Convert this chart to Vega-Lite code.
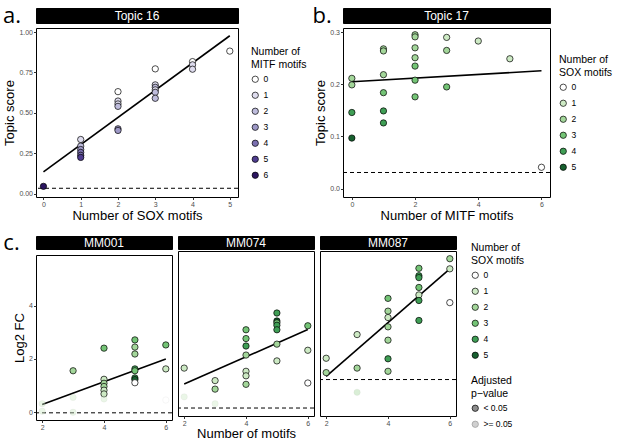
{
  "$schema": "https://vega.github.io/schema/vega-lite/v6.json",
  "padding": {"left": 2, "top": 4, "right": 0, "bottom": 0},
  "config": {
    "font": "Liberation Sans",
    "view": {"stroke": "black", "strokeWidth": 1},
    "axis": {"grid": false, "domain": false, "tickColor": "#333333", "tickSize": 2.5, "labelFontSize": 7, "labelColor": "#4d4d4d", "titleFontSize": 13, "titleFontWeight": "normal", "titleColor": "black", "labelPadding": 1, "titlePadding": 2},
    "legend": {"titleFontSize": 10.5, "titleFontWeight": "normal", "labelFontSize": 8.5, "symbolType": "circle", "symbolStrokeColor": "black", "symbolStrokeWidth": 0.8, "symbolSize": 40, "rowPadding": 6, "titleLimit": 200, "offset": 10, "layout": {"right": {"anchor": "middle", "direction": "vertical", "margin": 16}}},
    "point": {"filled": true, "stroke": "black", "strokeWidth": 0.7, "size": 40, "shape": "circle", "opacity": 1}
  },
  "datasets": {
    "a": [
      {"sox": 0, "score": 0.045, "mitf": 6},
      {"sox": 1, "score": 0.335, "mitf": 1}, {"sox": 1, "score": 0.294, "mitf": 2}, {"sox": 1, "score": 0.273, "mitf": 3}, {"sox": 1, "score": 0.255, "mitf": 4}, {"sox": 1, "score": 0.237, "mitf": 4}, {"sox": 1, "score": 0.224, "mitf": 5},
      {"sox": 2, "score": 0.631, "mitf": 0}, {"sox": 2, "score": 0.573, "mitf": 1}, {"sox": 2, "score": 0.555, "mitf": 1}, {"sox": 2, "score": 0.540, "mitf": 2}, {"sox": 2, "score": 0.401, "mitf": 3}, {"sox": 2, "score": 0.391, "mitf": 3},
      {"sox": 3, "score": 0.772, "mitf": 0}, {"sox": 3, "score": 0.673, "mitf": 1}, {"sox": 3, "score": 0.658, "mitf": 2}, {"sox": 3, "score": 0.642, "mitf": 1}, {"sox": 3, "score": 0.627, "mitf": 2}, {"sox": 3, "score": 0.590, "mitf": 2},
      {"sox": 4, "score": 0.817, "mitf": 0}, {"sox": 4, "score": 0.797, "mitf": 1}, {"sox": 4, "score": 0.770, "mitf": 1},
      {"sox": 5, "score": 0.882, "mitf": 0}
    ],
    "b": [
      {"mitf": 0, "score": 0.2115, "sox": 2}, {"mitf": 0, "score": 0.199, "sox": 2}, {"mitf": 0, "score": 0.146, "sox": 4}, {"mitf": 0, "score": 0.097, "sox": 5},
      {"mitf": 1, "score": 0.268, "sox": 2}, {"mitf": 1, "score": 0.264, "sox": 2}, {"mitf": 1, "score": 0.2185, "sox": 2}, {"mitf": 1, "score": 0.184, "sox": 3}, {"mitf": 1, "score": 0.149, "sox": 4}, {"mitf": 1, "score": 0.126, "sox": 4},
      {"mitf": 2, "score": 0.295, "sox": 2}, {"mitf": 2, "score": 0.291, "sox": 2}, {"mitf": 2, "score": 0.270, "sox": 2}, {"mitf": 2, "score": 0.251, "sox": 2}, {"mitf": 2, "score": 0.235, "sox": 3}, {"mitf": 2, "score": 0.208, "sox": 3}, {"mitf": 2, "score": 0.176, "sox": 3},
      {"mitf": 3, "score": 0.290, "sox": 1}, {"mitf": 3, "score": 0.265, "sox": 2}, {"mitf": 3, "score": 0.195, "sox": 3},
      {"mitf": 4, "score": 0.283, "sox": 1}, {"mitf": 5, "score": 0.249, "sox": 1}, {"mitf": 6, "score": 0.041, "sox": 0}
    ],
    "c": [
      {"sample": "MM001", "n": 2, "fc": 0.31, "sox": 1, "sig": ">= 0.05"}, {"sample": "MM001", "n": 2, "fc": 0.03, "sox": 1, "sig": ">= 0.05"},
      {"sample": "MM001", "n": 3, "fc": 1.55, "sox": 2, "sig": "< 0.05"}, {"sample": "MM001", "n": 3, "fc": 0.55, "sox": 1, "sig": ">= 0.05"}, {"sample": "MM001", "n": 3, "fc": -0.01, "sox": 1, "sig": ">= 0.05"},
      {"sample": "MM001", "n": 4, "fc": 2.40, "sox": 3, "sig": "< 0.05"}, {"sample": "MM001", "n": 4, "fc": 1.23, "sox": 1, "sig": "< 0.05"}, {"sample": "MM001", "n": 4, "fc": 1.08, "sox": 2, "sig": "< 0.05"}, {"sample": "MM001", "n": 4, "fc": 0.96, "sox": 2, "sig": "< 0.05"}, {"sample": "MM001", "n": 4, "fc": 0.82, "sox": 1, "sig": "< 0.05"}, {"sample": "MM001", "n": 4, "fc": 0.68, "sox": 1, "sig": "< 0.05"}, {"sample": "MM001", "n": 4, "fc": 0.49, "sox": 1, "sig": ">= 0.05"},
      {"sample": "MM001", "n": 5, "fc": 2.71, "sox": 3, "sig": "< 0.05"}, {"sample": "MM001", "n": 5, "fc": 2.44, "sox": 2, "sig": "< 0.05"}, {"sample": "MM001", "n": 5, "fc": 2.18, "sox": 2, "sig": "< 0.05"}, {"sample": "MM001", "n": 5, "fc": 1.62, "sox": 4, "sig": "< 0.05"}, {"sample": "MM001", "n": 5, "fc": 1.55, "sox": 3, "sig": "< 0.05"}, {"sample": "MM001", "n": 5, "fc": 1.28, "sox": 4, "sig": "< 0.05"}, {"sample": "MM001", "n": 5, "fc": 1.22, "sox": 5, "sig": "< 0.05"}, {"sample": "MM001", "n": 5, "fc": 1.10, "sox": 0, "sig": "< 0.05"},
      {"sample": "MM001", "n": 6, "fc": 2.52, "sox": 3, "sig": "< 0.05"}, {"sample": "MM001", "n": 6, "fc": 1.62, "sox": 1, "sig": "< 0.05"}, {"sample": "MM001", "n": 6, "fc": 0.45, "sox": 0, "sig": ">= 0.05"},
      {"sample": "MM074", "n": 2, "fc": 1.50, "sox": 1, "sig": "< 0.05"}, {"sample": "MM074", "n": 2, "fc": 0.42, "sox": 1, "sig": ">= 0.05"},
      {"sample": "MM074", "n": 3, "fc": 1.03, "sox": 1, "sig": "< 0.05"}, {"sample": "MM074", "n": 3, "fc": 0.71, "sox": 2, "sig": "< 0.05"}, {"sample": "MM074", "n": 3, "fc": 0.16, "sox": 1, "sig": ">= 0.05"},
      {"sample": "MM074", "n": 4, "fc": 2.94, "sox": 3, "sig": "< 0.05"}, {"sample": "MM074", "n": 4, "fc": 2.61, "sox": 3, "sig": "< 0.05"}, {"sample": "MM074", "n": 4, "fc": 2.33, "sox": 4, "sig": "< 0.05"}, {"sample": "MM074", "n": 4, "fc": 1.99, "sox": 2, "sig": "< 0.05"}, {"sample": "MM074", "n": 4, "fc": 1.38, "sox": 1, "sig": "< 0.05"}, {"sample": "MM074", "n": 4, "fc": 1.21, "sox": 1, "sig": "< 0.05"}, {"sample": "MM074", "n": 4, "fc": 0.89, "sox": 2, "sig": "< 0.05"},
      {"sample": "MM074", "n": 5, "fc": 3.57, "sox": 4, "sig": "< 0.05"}, {"sample": "MM074", "n": 5, "fc": 3.27, "sox": 5, "sig": "< 0.05"}, {"sample": "MM074", "n": 5, "fc": 3.20, "sox": 3, "sig": "< 0.05"}, {"sample": "MM074", "n": 5, "fc": 3.11, "sox": 4, "sig": "< 0.05"}, {"sample": "MM074", "n": 5, "fc": 2.94, "sox": 4, "sig": "< 0.05"}, {"sample": "MM074", "n": 5, "fc": 2.40, "sox": 2, "sig": "< 0.05"}, {"sample": "MM074", "n": 5, "fc": 1.77, "sox": 1, "sig": "< 0.05"},
      {"sample": "MM074", "n": 6, "fc": 3.09, "sox": 3, "sig": "< 0.05"}, {"sample": "MM074", "n": 6, "fc": 2.17, "sox": 1, "sig": "< 0.05"}, {"sample": "MM074", "n": 6, "fc": 0.94, "sox": 0, "sig": "< 0.05"},
      {"sample": "MM087", "n": 2, "fc": 1.87, "sox": 1, "sig": "< 0.05"}, {"sample": "MM087", "n": 2, "fc": 1.33, "sox": 2, "sig": "< 0.05"},
      {"sample": "MM087", "n": 3, "fc": 2.76, "sox": 1, "sig": "< 0.05"}, {"sample": "MM087", "n": 3, "fc": 1.50, "sox": 2, "sig": "< 0.05"}, {"sample": "MM087", "n": 3, "fc": 0.59, "sox": 2, "sig": ">= 0.05"},
      {"sample": "MM087", "n": 4, "fc": 4.12, "sox": 3, "sig": "< 0.05"}, {"sample": "MM087", "n": 4, "fc": 3.64, "sox": 2, "sig": "< 0.05"}, {"sample": "MM087", "n": 4, "fc": 3.40, "sox": 1, "sig": "< 0.05"}, {"sample": "MM087", "n": 4, "fc": 3.05, "sox": 2, "sig": "< 0.05"}, {"sample": "MM087", "n": 4, "fc": 2.55, "sox": 2, "sig": "< 0.05"}, {"sample": "MM087", "n": 4, "fc": 1.85, "sox": 4, "sig": "< 0.05"}, {"sample": "MM087", "n": 4, "fc": 1.38, "sox": 2, "sig": "< 0.05"},
      {"sample": "MM087", "n": 5, "fc": 5.25, "sox": 3, "sig": "< 0.05"}, {"sample": "MM087", "n": 5, "fc": 4.97, "sox": 4, "sig": "< 0.05"}, {"sample": "MM087", "n": 5, "fc": 4.90, "sox": 4, "sig": "< 0.05"}, {"sample": "MM087", "n": 5, "fc": 4.53, "sox": 3, "sig": "< 0.05"}, {"sample": "MM087", "n": 5, "fc": 4.25, "sox": 1, "sig": "< 0.05"}, {"sample": "MM087", "n": 5, "fc": 4.04, "sox": 4, "sig": "< 0.05"}, {"sample": "MM087", "n": 5, "fc": 3.29, "sox": 4, "sig": "< 0.05"},
      {"sample": "MM087", "n": 6, "fc": 5.61, "sox": 2, "sig": "< 0.05"}, {"sample": "MM087", "n": 6, "fc": 5.23, "sox": 1, "sig": "< 0.05"}, {"sample": "MM087", "n": 6, "fc": 3.96, "sox": 0, "sig": "< 0.05"}
    ],
    "fits": [
      {"panel": "a", "x": 0, "y": 0.134}, {"panel": "a", "x": 5, "y": 0.977},
      {"panel": "b", "x": 0, "y": 0.205}, {"panel": "b", "x": 6, "y": 0.226},
      {"panel": "MM001", "x": 2, "y": 0.28}, {"panel": "MM001", "x": 6, "y": 1.99},
      {"panel": "MM074", "x": 2, "y": 0.90}, {"panel": "MM074", "x": 6, "y": 2.95},
      {"panel": "MM087", "x": 2, "y": 1.19}, {"panel": "MM087", "x": 6, "y": 5.23}
    ],
    "thresholds": [
      {"panel": "a", "y": 0.033}, {"panel": "b", "y": 0.031},
      {"panel": "MM001", "y": -0.03}, {"panel": "MM074", "y": 0.0}, {"panel": "MM087", "y": 1.07}
    ]
  },
  "resolve": {"scale": {"fill": "independent", "opacity": "independent", "strokeOpacity": "independent"}, "legend": {"fill": "independent", "opacity": "independent"}},
  "spacing": 8,
  "columns": 1,
  "align": "none",
  "concat": [
    {
      "hconcat": [
        {
          "spacing": 0,
          "vconcat": [
            {
              "width": 202, "height": 15,
              "data": {"values": [{"label": "Topic 16", "tag": "a."}]},
              "view": {"fill": "black", "stroke": "black"},
              "layer": [
                {"mark": {"type": "text", "color": "white", "fontSize": 12, "baseline": "middle"}, "encoding": {"text": {"field": "label"}}},
                {"mark": {"type": "text", "color": "black", "fontSize": 22, "font": "Open Sans", "baseline": "middle", "align": "center"}, "encoding": {"text": {"field": "tag"}, "x": {"datum": -0.119, "type": "quantitative", "scale": {"domain": [0, 1], "nice": false, "zero": false}, "axis": null}}}
              ]
            },
            {
              "width": 202, "height": 169,
              "layer": [
                {
                  "data": {"name": "thresholds"},
                  "transform": [{"filter": "datum.panel == 'a'"}],
                  "mark": {"type": "rule", "strokeDash": [4, 3], "color": "black", "strokeWidth": 1},
                  "encoding": {"y": {"field": "y", "type": "quantitative", "title": "Topic score"}}
                },
                {
                  "data": {"name": "fits"},
                  "transform": [{"filter": "datum.panel == 'a'"}],
                  "mark": {"type": "line", "color": "black", "strokeWidth": 1.6},
                  "encoding": {
                    "x": {"field": "x", "type": "quantitative", "title": "Number of SOX motifs"},
                    "y": {"field": "y", "type": "quantitative", "title": "Topic score"}
                  }
                },
                {
                  "data": {"name": "a"},
                  "mark": {"type": "point"},
                  "encoding": {
                    "x": {"field": "sox", "type": "quantitative", "title": "Number of SOX motifs", "scale": {"domain": [-0.2, 5.22], "nice": false, "zero": false}, "axis": {"values": [0, 1, 2, 3, 4, 5], "format": "d"}},
                    "y": {"field": "score", "type": "quantitative", "title": "Topic score", "scale": {"domain": [-0.021, 1.025], "nice": false, "zero": false}, "axis": {"values": [0, 0.25, 0.5, 0.75, 1], "format": ".2f"}},
                    "fill": {"field": "mitf", "type": "ordinal", "title": ["Number of", "MITF motifs"], "legend": {"offset": 12}, "scale": {"domain": [0, 1, 2, 3, 4, 5, 6], "range": ["#ffffff", "#dedcee", "#bebcdc", "#9d98c6", "#7b70b0", "#4f3d8f", "#2b1560"]}}
                  }
                }
              ]
            }
          ]
        },
        {
          "spacing": 0,
          "vconcat": [
            {
              "width": 207, "height": 15,
              "data": {"values": [{"label": "Topic 17", "tag": "b."}]},
              "view": {"fill": "black", "stroke": "black"},
              "layer": [
                {"mark": {"type": "text", "color": "white", "fontSize": 12, "baseline": "middle"}, "encoding": {"text": {"field": "label"}}},
                {"mark": {"type": "text", "color": "black", "fontSize": 22, "font": "Open Sans", "baseline": "middle", "align": "center"}, "encoding": {"text": {"field": "tag"}, "x": {"datum": -0.101, "type": "quantitative", "scale": {"domain": [0, 1], "nice": false, "zero": false}, "axis": null}}}
              ]
            },
            {
              "width": 207, "height": 169,
              "layer": [
                {
                  "data": {"name": "thresholds"},
                  "transform": [{"filter": "datum.panel == 'b'"}],
                  "mark": {"type": "rule", "strokeDash": [4, 3], "color": "black", "strokeWidth": 1},
                  "encoding": {"y": {"field": "y", "type": "quantitative", "title": "Topic score"}}
                },
                {
                  "data": {"name": "fits"},
                  "transform": [{"filter": "datum.panel == 'b'"}],
                  "mark": {"type": "line", "color": "black", "strokeWidth": 1.6},
                  "encoding": {
                    "x": {"field": "x", "type": "quantitative", "title": "Number of MITF motifs"},
                    "y": {"field": "y", "type": "quantitative", "title": "Topic score"}
                  }
                },
                {
                  "data": {"name": "b"},
                  "mark": {"type": "point"},
                  "encoding": {
                    "x": {"field": "mitf", "type": "quantitative", "title": "Number of MITF motifs", "scale": {"domain": [-0.28, 6.27], "nice": false, "zero": false}, "axis": {"values": [0, 2, 4, 6], "format": "d"}},
                    "y": {"field": "score", "type": "quantitative", "title": "Topic score", "scale": {"domain": [-0.016, 0.308], "nice": false, "zero": false}, "axis": {"values": [0, 0.1, 0.2, 0.3], "format": ".1f"}},
                    "fill": {"field": "sox", "type": "ordinal", "title": ["Number of", "SOX motifs"], "legend": {"offset": 8}, "scale": {"domain": [0, 1, 2, 3, 4, 5], "range": ["#ffffff", "#cdeac4", "#a3d69a", "#74c476", "#3f9e55", "#17602f"]}}
                  }
                }
              ]
            }
          ]
        }
      ],
      "spacing": 4,
      "resolve": {"scale": {"fill": "independent"}, "legend": {"fill": "independent"}}
    },
    {
      "spacing": 4,
      "hconcat": [
        {
          "spacing": 0,
          "vconcat": [
            {
              "width": 136, "height": 13,
              "data": {"values": [{"label": "MM001", "tag": "c."}]},
              "view": {"fill": "black", "stroke": "black"},
              "layer": [
                {"mark": {"type": "text", "color": "white", "fontSize": 12, "baseline": "middle"}, "encoding": {"text": {"field": "label"}}},
                {"mark": {"type": "text", "color": "black", "fontSize": 22, "font": "Open Sans", "baseline": "middle", "align": "center"}, "encoding": {"text": {"field": "tag"}, "x": {"datum": -0.18, "type": "quantitative", "scale": {"domain": [0, 1], "nice": false, "zero": false}, "axis": null}}}
              ]
            },
            {
              "width": 136, "height": 165,
              "layer": [
                {
                  "data": {"name": "thresholds"},
                  "transform": [{"filter": "datum.panel == 'MM001'"}],
                  "mark": {"type": "rule", "strokeDash": [4, 3], "color": "black", "strokeWidth": 1},
                  "encoding": {"y": {"field": "y", "type": "quantitative", "title": "Log2 FC"}}
                },
                {
                  "data": {"name": "fits"},
                  "transform": [{"filter": "datum.panel == 'MM001'"}],
                  "mark": {"type": "line", "color": "black", "strokeWidth": 1.6},
                  "encoding": {
                    "x": {"field": "x", "type": "quantitative", "title": null},
                    "y": {"field": "y", "type": "quantitative", "title": "Log2 FC"}
                  }
                },
                {
                  "data": {"name": "c"},
                  "transform": [{"filter": "datum.sample == 'MM001'"}],
                  "mark": {"type": "point"},
                  "encoding": {
                    "x": {"field": "n", "type": "quantitative", "title": null, "scale": {"domain": [1.8, 6.2], "nice": false, "zero": false}, "axis": {"values": [2, 3, 4, 5, 6], "format": "d"}},
                    "y": {"field": "fc", "type": "quantitative", "title": "Log2 FC", "scale": {"domain": [-0.3, 5.9], "nice": false, "zero": false}, "axis": {"values": [0, 2, 4], "format": "d"}},
                    "fill": {"field": "sox", "type": "ordinal", "title": ["Number of", "SOX motifs"], "legend": {"offset": 14}, "scale": {"domain": [0, 1, 2, 3, 4, 5], "range": ["#ffffff", "#cdeac4", "#a3d69a", "#74c476", "#3f9e55", "#17602f"]}},
                    "opacity": {"field": "sig", "type": "nominal", "title": ["Adjusted", "p\u2212value"], "legend": {"offset": 14, "symbolFillColor": "#8c8c8c", "encode": {"symbols": {"update": {"strokeOpacity": {"signal": "datum.value === '< 0.05' ? 1 : 0"}}}}}, "scale": {"domain": ["< 0.05", ">= 0.05"], "range": [1, 0.4]}},
                    "strokeOpacity": {"field": "sig", "type": "nominal", "scale": {"domain": ["< 0.05", ">= 0.05"], "range": [1, 0.12]}}
                  }
                }
              ]
            }
          ]
        },
        {
          "spacing": 0,
          "vconcat": [
            {
              "width": 136, "height": 13,
              "data": {"values": [{"label": "MM074"}]},
              "view": {"fill": "black", "stroke": "black"},
              "mark": {"type": "text", "color": "white", "fontSize": 12, "baseline": "middle"},
              "encoding": {"text": {"field": "label"}}
            },
            {
              "width": 136, "height": 165,
              "layer": [
                {
                  "data": {"name": "thresholds"},
                  "transform": [{"filter": "datum.panel == 'MM074'"}],
                  "mark": {"type": "rule", "strokeDash": [4, 3], "color": "black", "strokeWidth": 1},
                  "encoding": {"y": {"field": "y", "type": "quantitative", "title": null}}
                },
                {
                  "data": {"name": "fits"},
                  "transform": [{"filter": "datum.panel == 'MM074'"}],
                  "mark": {"type": "line", "color": "black", "strokeWidth": 1.6},
                  "encoding": {
                    "x": {"field": "x", "type": "quantitative", "title": "Number of motifs"},
                    "y": {"field": "y", "type": "quantitative", "title": null}
                  }
                },
                {
                  "data": {"name": "c"},
                  "transform": [{"filter": "datum.sample == 'MM074'"}],
                  "mark": {"type": "point"},
                  "encoding": {
                    "x": {"field": "n", "type": "quantitative", "title": "Number of motifs", "scale": {"domain": [1.8, 6.2], "nice": false, "zero": false}, "axis": {"values": [2, 3, 4, 5, 6], "format": "d", "titlePadding": 1}},
                    "y": {"field": "fc", "type": "quantitative", "title": null, "scale": {"domain": [-0.3, 5.9], "nice": false, "zero": false}, "axis": null},
                    "fill": {"field": "sox", "type": "ordinal", "title": ["Number of", "SOX motifs"], "scale": {"domain": [0, 1, 2, 3, 4, 5], "range": ["#ffffff", "#cdeac4", "#a3d69a", "#74c476", "#3f9e55", "#17602f"]}},
                    "opacity": {"field": "sig", "type": "nominal", "title": ["Adjusted", "p\u2212value"], "scale": {"domain": ["< 0.05", ">= 0.05"], "range": [1, 0.4]}},
                    "strokeOpacity": {"field": "sig", "type": "nominal", "scale": {"domain": ["< 0.05", ">= 0.05"], "range": [1, 0.12]}}
                  }
                }
              ]
            }
          ]
        },
        {
          "spacing": 0,
          "vconcat": [
            {
              "width": 136, "height": 13,
              "data": {"values": [{"label": "MM087"}]},
              "view": {"fill": "black", "stroke": "black"},
              "mark": {"type": "text", "color": "white", "fontSize": 12, "baseline": "middle"},
              "encoding": {"text": {"field": "label"}}
            },
            {
              "width": 136, "height": 165,
              "layer": [
                {
                  "data": {"name": "thresholds"},
                  "transform": [{"filter": "datum.panel == 'MM087'"}],
                  "mark": {"type": "rule", "strokeDash": [4, 3], "color": "black", "strokeWidth": 1},
                  "encoding": {"y": {"field": "y", "type": "quantitative", "title": null}}
                },
                {
                  "data": {"name": "fits"},
                  "transform": [{"filter": "datum.panel == 'MM087'"}],
                  "mark": {"type": "line", "color": "black", "strokeWidth": 1.6},
                  "encoding": {
                    "x": {"field": "x", "type": "quantitative", "title": null},
                    "y": {"field": "y", "type": "quantitative", "title": null}
                  }
                },
                {
                  "data": {"name": "c"},
                  "transform": [{"filter": "datum.sample == 'MM087'"}],
                  "mark": {"type": "point"},
                  "encoding": {
                    "x": {"field": "n", "type": "quantitative", "title": null, "scale": {"domain": [1.8, 6.2], "nice": false, "zero": false}, "axis": {"values": [2, 3, 4, 5, 6], "format": "d"}},
                    "y": {"field": "fc", "type": "quantitative", "title": null, "scale": {"domain": [-0.3, 5.9], "nice": false, "zero": false}, "axis": null},
                    "fill": {"field": "sox", "type": "ordinal", "title": ["Number of", "SOX motifs"], "scale": {"domain": [0, 1, 2, 3, 4, 5], "range": ["#ffffff", "#cdeac4", "#a3d69a", "#74c476", "#3f9e55", "#17602f"]}},
                    "opacity": {"field": "sig", "type": "nominal", "title": ["Adjusted", "p\u2212value"], "scale": {"domain": ["< 0.05", ">= 0.05"], "range": [1, 0.4]}},
                    "strokeOpacity": {"field": "sig", "type": "nominal", "scale": {"domain": ["< 0.05", ">= 0.05"], "range": [1, 0.12]}}
                  }
                }
              ]
            }
          ]
        }
      ]
    }
  ]
}
